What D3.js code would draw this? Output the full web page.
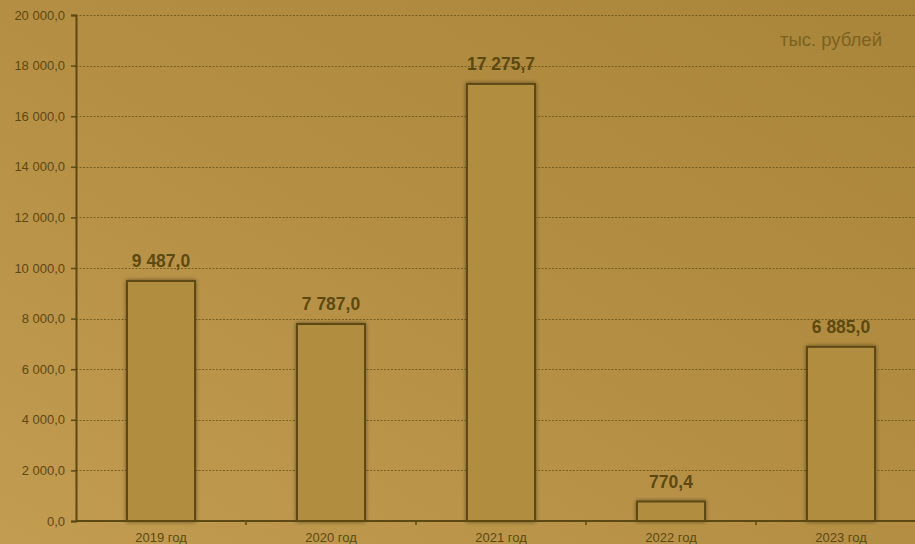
<!DOCTYPE html>
<html>
<head>
<meta charset="utf-8">
<script src="https://cdn.jsdelivr.net/npm/d3@7/dist/d3.min.js"></script>
<style>
  html, body { margin: 0; padding: 0; background: #b8934a; }
  svg { display: block; font-family: "Liberation Sans", Arial, sans-serif; }
</style>
</head>
<body>
<svg id="chart" width="915" height="544"></svg>
<script>
// Annual amounts, thousand roubles
const years = ["2019 год", "2020 год", "2021 год", "2022 год", "2023 год"];
const amounts = [9487.0, 7787.0, 17275.7, 770.4, 6885.0];
const yTicks = [0, 2000, 4000, 6000, 8000, 10000, 12000, 14000, 16000, 18000, 20000];
const unitLabel = "тыс. рублей";

const W = 915, H = 544;
const margin = { left: 76, top: 15, bottom: 23 };
const plotRight = 926;

const ink = "#5c4912";
const svg = d3.select("#chart");
const defs = svg.append("defs");

const bg = defs.append("linearGradient").attr("id", "bg")
  .attr("x1", "0%").attr("y1", "100%").attr("x2", "100%").attr("y2", "0%");
bg.append("stop").attr("offset", "0%").attr("stop-color", "#c29c51");
bg.append("stop").attr("offset", "50%").attr("stop-color", "#b48f43");
bg.append("stop").attr("offset", "100%").attr("stop-color", "#a9853a");

const shadow = defs.append("filter").attr("id", "barShadow")
  .attr("x", "-20%").attr("y", "-20%").attr("width", "140%").attr("height", "140%");
shadow.append("feGaussianBlur").attr("in", "SourceAlpha").attr("stdDeviation", 2.2).attr("result", "b");
shadow.append("feComponentTransfer").attr("in", "b").attr("result", "s")
  .append("feFuncA").attr("type", "linear").attr("slope", 0.45);
const merge = shadow.append("feMerge");
merge.append("feMergeNode").attr("in", "s");
merge.append("feMergeNode").attr("in", "SourceGraphic");

svg.append("rect").attr("width", W).attr("height", H).attr("fill", "url(#bg)");

const x = d3.scaleBand().domain(years).range([margin.left, plotRight]).paddingInner(0).paddingOuter(0);
const y = d3.scaleLinear().domain([0, 20000]).range([H - margin.bottom, margin.top]);

const fmt = v => d3.format(",.1f")(v).replace(/,/g, " ").replace(".", ",");

// gridlines
svg.append("g").selectAll("line").data(yTicks.filter(t => t > 0)).join("line")
  .attr("x1", margin.left).attr("x2", W)
  .attr("y1", d => Math.round(y(d)) + 0.5).attr("y2", d => Math.round(y(d)) + 0.5)
  .attr("stroke", ink).attr("stroke-opacity", 0.7)
  .attr("stroke-width", 1.2).attr("stroke-dasharray", "2,1.5");

// y axis
const yAxis = svg.append("g").attr("transform", `translate(${margin.left},0)`)
  .call(d3.axisLeft(y).tickValues(yTicks).tickSize(5).tickPadding(6).tickFormat(fmt));
yAxis.select(".domain").attr("stroke", ink).attr("stroke-width", 2);
yAxis.selectAll(".tick line").attr("stroke", ink).attr("stroke-width", 1.5);
yAxis.selectAll(".tick text").attr("fill", ink).attr("font-size", 13)
  .attr("font-family", "Liberation Sans, Arial, sans-serif");

// bars
const barW = 68;
svg.append("g").selectAll("rect").data(years).join("rect")
  .attr("x", d => x(d) + x.bandwidth() / 2 - barW / 2)
  .attr("y", (d, i) => y(amounts[i]))
  .attr("width", barW)
  .attr("height", (d, i) => y(0) - y(amounts[i]))
  .attr("fill", "#b18d3f")
  .attr("stroke", ink).attr("stroke-width", 2)
  .attr("filter", "url(#barShadow)");

// x axis
const xAxis = svg.append("g").attr("transform", `translate(0,${y(0)})`);
xAxis.append("line").attr("x1", margin.left).attr("x2", W)
  .attr("stroke", ink).attr("stroke-width", 2);
xAxis.selectAll(".sep").data(years.slice(1)).join("line").attr("class", "sep")
  .attr("x1", d => x(d)).attr("x2", d => x(d))
  .attr("y1", 0).attr("y2", 4)
  .attr("stroke", ink).attr("stroke-width", 1.5);
xAxis.selectAll("text").data(years).join("text")
  .attr("x", d => x(d) + x.bandwidth() / 2)
  .attr("y", 21)
  .attr("text-anchor", "middle")
  .attr("fill", ink).attr("font-size", 13)
  .text(d => d);

// value labels
svg.append("g").selectAll("text").data(years).join("text")
  .attr("x", d => x(d) + x.bandwidth() / 2)
  .attr("y", (d, i) => y(amounts[i]) - 14)
  .attr("text-anchor", "middle")
  .attr("fill", ink).attr("font-size", 17.5).attr("font-weight", "bold")
  .text((d, i) => fmt(amounts[i]));

// unit note
svg.append("text").attr("x", 882).attr("y", 46).attr("text-anchor", "end")
  .attr("fill", "#7a6220").attr("font-size", 18.5).text(unitLabel);
</script>
</body>
</html>
